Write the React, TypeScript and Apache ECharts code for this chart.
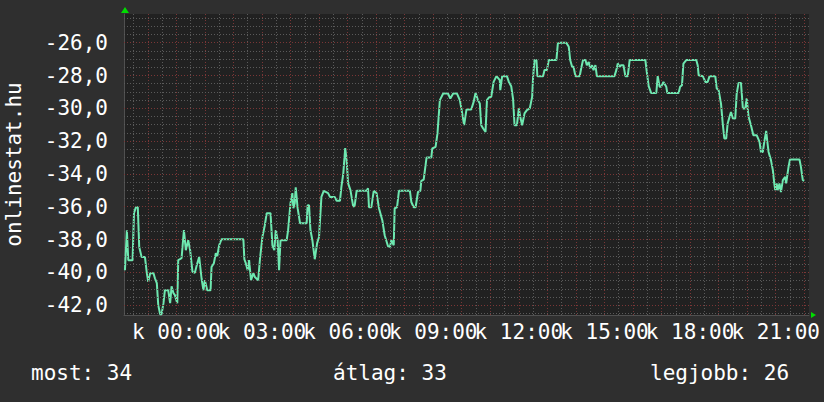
import React, { useEffect, useRef } from 'react';
import * as echarts from 'echarts';

// minutes relative to midnight (negative = previous evening)
const times = [-108,-104,-101,-92,-89,-85,-81,-78,-73,-66,-62,-59,-55,-48,-45,-41,-38,-34,-31,-27,-24,-17,-13,-10,-6,-3,2,4,11,16,20,25,29,34,39,43,48,53,57,60,65,72,74,79,83,86,90,95,141,143,146,150,153,157,162,165,172,176,181,186,190,198,202,206,209,213,216,219,232,235,240,244,246,249,251,255,260,274,276,279,282,286,291,296,300,305,310,319,323,333,337,344,347,351,355,358,361,366,372,375,379,400,403,405,410,415,421,426,433,438,445,449,452,457,459,464,468,491,494,499,503,508,513,515,520,526,536,538,545,549,552,554,561,571,576,582,590,596,601,605,610,620,625,629,634,638,641,645,650,653,657,662,667,673,680,681,685,695,699,704,708,711,716,720,723,727,732,737,743,748,750,753,757,759,771,774,779,783,799,802,806,820,825,828,832,835,839,848,851,855,860,863,867,870,874,877,881,884,921,925,928,932,935,940,944,949,953,986,989,993,998,1009,1012,1016,1019,1024,1030,1032,1056,1059,1063,1066,1072,1093,1096,1098,1107,1112,1117,1121,1133,1136,1140,1145,1149,1152,1156,1159,1163,1166,1170,1175,1178,1182,1187,1191,1196,1199,1203,1208,1213,1220,1226,1229,1233,1236,1240,1242,1245,1250,1254,1257,1259,1262,1264,1268,1271,1275,1280,1282,1285,1287,1290,1310,1313,1317,1320];

const values = [-39.87,-37.43,-39.26,-39.26,-36.39,-36.03,-36.03,-38.45,-39.06,-39.06,-40.05,-40.58,-40.05,-40.05,-40.36,-40.66,-42.0,-42.55,-42.55,-41.88,-41.09,-41.09,-41.88,-40.85,-41.27,-41.39,-41.88,-39.26,-39.14,-37.43,-38.65,-38.04,-38.65,-39.97,-40.03,-39.56,-39.06,-40.36,-41.09,-40.48,-41.09,-41.09,-39.67,-39.44,-38.83,-39.02,-38.35,-37.98,-37.98,-39.2,-39.44,-39.87,-39.26,-40.48,-40.05,-40.28,-40.48,-39.14,-37.84,-37.13,-36.39,-36.39,-38.35,-38.65,-37.43,-38.04,-39.87,-38.04,-38.04,-37.43,-35.78,-35.17,-36.09,-35.78,-34.81,-36.09,-37.0,-37.0,-35.91,-35.91,-37.43,-38.04,-39.2,-38.22,-37.84,-35.4,-35.03,-35.17,-35.4,-35.4,-35.64,-35.64,-34.79,-33.96,-32.43,-33.16,-34.56,-34.99,-36.01,-35.91,-35.03,-35.03,-34.87,-36.03,-36.03,-35.03,-35.17,-36.09,-36.82,-37.74,-38.41,-38.45,-38.04,-38.35,-36.09,-36.03,-35.03,-35.03,-35.71,-36.03,-36.03,-35.1,-35.03,-34.42,-34.34,-33.0,-33.0,-32.45,-32.35,-31.53,-30.31,-29.5,-29.1,-29.1,-29.4,-29.1,-29.1,-29.5,-30.31,-31.03,-30.07,-30.07,-29.61,-29.06,-29.5,-29.71,-31.03,-31.23,-31.44,-29.5,-29.34,-29.3,-28.39,-28.04,-28.28,-28.89,-28.04,-28.04,-28.39,-28.65,-29.46,-31.03,-31.03,-30.01,-30.52,-31.03,-30.31,-30.11,-30.01,-29.3,-28.08,-27.06,-27.06,-28.04,-28.04,-27.67,-27.67,-27.06,-27.06,-26.05,-26.01,-26.01,-26.25,-27.06,-27.47,-27.47,-28.04,-28.04,-27.57,-27.06,-27.06,-27.37,-27.17,-27.57,-27.37,-27.67,-27.37,-28.04,-28.04,-27.67,-27.27,-27.47,-27.37,-27.37,-28.04,-28.04,-27.06,-27.06,-27.78,-28.65,-29.06,-29.06,-28.04,-28.69,-28.69,-28.39,-28.69,-29.06,-29.06,-28.69,-28.59,-27.27,-27.06,-27.06,-27.37,-27.98,-28.04,-28.39,-28.39,-28.04,-28.04,-28.79,-28.89,-29.71,-31.03,-31.84,-31.84,-30.92,-30.52,-30.22,-30.62,-30.62,-29.1,-28.45,-28.45,-30.01,-30.01,-29.4,-30.52,-31.03,-31.64,-31.64,-32.05,-32.66,-32.66,-32.05,-31.38,-31.94,-32.66,-33.16,-33.77,-34.58,-34.99,-34.58,-34.99,-34.58,-35.1,-34.38,-34.18,-34.58,-33.97,-33.57,-33.12,-33.12,-33.57,-34.38,-34.42];

const yTickValues = [-42, -40, -38, -36, -34, -32, -30, -28, -26];
const xLabelMinutes = [0, 180, 360, 540, 720, 900, 1080, 1260];
const dayLetter = 'k';
const yTitle = 'onlinestat.hu';
const footerTexts = ['most: 34', 'átlag: 33', 'legjobb: 26'];

const X_MIN = -110;
const X_MAX = 1330;
const Y_MIN = -42.6;
const Y_MAX = -24.25;

const FONT = '"DejaVu Sans Mono", monospace';
const MINOR = '#5a5a5a';
const MAJOR = '#7a3636';

export default function App() {
  const ref = useRef<HTMLDivElement>(null);
  useEffect(() => {
    if (!ref.current) return;
    const chart = echarts.init(ref.current, null, { renderer: 'svg' });
    const n = Math.min(times.length, values.length);
    const data: number[][] = [];
    for (let i = 0; i < n; i++) data.push([times[i], values[i]]);

    const gridLines: any[] = [];
    for (let m = -90; m <= 1320; m += 30) {
      const major = m % 60 === 0;
      const ls = { color: major ? MAJOR : MINOR, type: [1, 2], width: 1 };
      gridLines.push([{ coord: [m, Y_MIN], lineStyle: ls }, { coord: [m, Y_MAX] }]);
    }
    for (let k = -85; k <= -49; k++) {
      const v = k / 2;
      const major = Number.isInteger(v) && v % 2 === 0;
      const ls = { color: major ? MAJOR : MINOR, type: [1, 2], width: 1 };
      gridLines.push([{ coord: [X_MIN, v], lineStyle: ls }, { coord: [X_MAX, v] }]);
    }

    const fmtTime = (m: number) => {
      const mm = ((m % 1440) + 1440) % 1440;
      const h = Math.floor(mm / 60);
      const mi = mm % 60;
      return dayLetter + ' ' + String(h).padStart(2, '0') + ':' + String(mi).padStart(2, '0');
    };

    const baseGraphic: any[] = [
      { type: 'polygon', shape: { points: [[121, 13], [129, 13], [125, 7]] }, style: { fill: '#00dd00' }, z: 10 },
      { type: 'polygon', shape: { points: [[811, 312], [811, 318], [816, 315]] }, style: { fill: '#00dd00' }, z: 10 },
      { type: 'text', left: 31, top: 362, style: { text: footerTexts[0], fill: '#ffffff', font: '21px ' + FONT } },
      { type: 'text', left: 333, top: 362, style: { text: footerTexts[1], fill: '#ffffff', font: '21px ' + FONT } },
      { type: 'text', left: 650, top: 362, style: { text: footerTexts[2], fill: '#ffffff', font: '21px ' + FONT } },
    ];

    chart.setOption({
      animation: false,
      backgroundColor: '#2f2f2f',
      grid: {
        left: 124, right: 15, top: 14, bottom: 87, show: true, backgroundColor: '#212121', borderWidth: 0,
        outerBoundsMode: 'none', containLabel: false,
      },
      xAxis: {
        type: 'value', min: X_MIN, max: X_MAX,
        axisLine: { show: true, onZero: false, lineStyle: { color: '#505050', width: 1 } },
        axisTick: { show: false },
        splitLine: { show: false },
        axisLabel: { show: false },
      },
      yAxis: {
        type: 'value', min: Y_MIN, max: Y_MAX,
        name: yTitle, nameLocation: 'middle', nameRotate: 90, nameGap: 100,
        nameTextStyle: { color: '#ffffff', fontFamily: FONT, fontSize: 21 },
        axisLine: { show: true, onZero: false, lineStyle: { color: '#505050', width: 1 } },
        axisTick: { show: false },
        splitLine: { show: false },
        axisLabel: {
          customValues: yTickValues,
          showMinLabel: true, showMaxLabel: true,
          formatter: (v: number) => v.toFixed(1).replace('.', ','),
          color: '#ffffff', fontFamily: FONT, fontSize: 21, margin: 16,
        },
      },
      series: [
        {
          type: 'line', data: [], z: 1, silent: true,
          markLine: { silent: true, symbol: ['none', 'none'], label: { show: false }, data: gridLines },
        },
        {
          type: 'line', data, z: 3, showSymbol: false, symbol: 'none',
          lineStyle: { color: '#6ee8b0', width: 2 },
        },
      ],
      graphic: baseGraphic,
    });

    // x-axis time labels placed through the x axis scale
    const yBottom = chart.convertToPixel({ yAxisIndex: 0 }, Y_MIN) as number;
    const xLabels = xLabelMinutes.map((m) => ({
      type: 'text',
      x: chart.convertToPixel({ xAxisIndex: 0 }, m) as number,
      y: yBottom + 6,
      style: {
        text: fmtTime(m), fill: '#ffffff', font: '21px ' + FONT,
        align: 'center', verticalAlign: 'top',
      },
      z: 5,
    }));
    chart.setOption({ graphic: baseGraphic.concat(xLabels) }, { replaceMerge: ['graphic'] });

    return () => chart.dispose();
  }, []);
  return <div ref={ref} style={{ position: 'fixed', left: 0, top: 0, width: 824, height: 402 }} />;
}
